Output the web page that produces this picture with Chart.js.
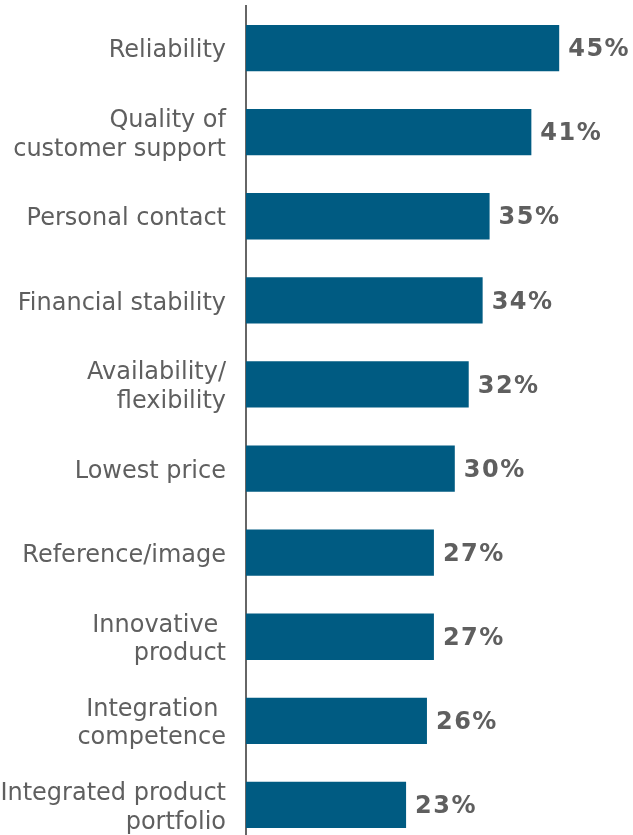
<!DOCTYPE html>
<html>
<head>
<meta charset="utf-8">
<script src="https://cdn.jsdelivr.net/npm/chart.js@4"></script>
<style>
  html, body { margin: 0; padding: 0; background: #fff; overflow: hidden; }
  .wrap { position: relative; width: 633px; height: 850px; }
</style>
</head>
<body>
<div class="wrap"><canvas id="driversChart"></canvas></div>
<script>
const categories = [
  "Reliability",
  ["Quality of", "customer support"],
  "Personal contact",
  "Financial stability",
  ["Availability/", "flexibility"],
  "Lowest price",
  "Reference/image",
  ["Innovative ", "product"],
  ["Integration ", "competence"],
  ["Integrated product", "portfolio"],
];

const shares = [45, 41, 35, 34, 32, 30, 27, 27, 26, 23];

const BAR_BLUE = "#005b82";
const TEXT_GREY = "#5f5f5f";

// percentage labels to the right of each bar
const valueLabels = {
  id: "valueLabels",
  afterDatasetsDraw(chart) {
    const { ctx } = chart;
    const meta = chart.getDatasetMeta(0);
    ctx.save();
    ctx.font = "bold 24px 'DejaVu Sans', Verdana, sans-serif";
    ctx.letterSpacing = "1.5px";
    ctx.fillStyle = TEXT_GREY;
    ctx.textAlign = "left";
    ctx.textBaseline = "middle";
    meta.data.forEach((bar, i) => {
      ctx.fillText(shares[i] + "%", bar.x + 9, bar.y + 2);
    });
    ctx.restore();
  },
};

const ctx = document.getElementById("driversChart").getContext("2d");

new Chart(ctx, {
  type: "bar",
  data: {
    labels: categories,
    datasets: [
      {
        data: shares,
        backgroundColor: BAR_BLUE,
        borderWidth: 0,
        barPercentage: 0.55,
        categoryPercentage: 1,
      },
    ],
  },
  options: {
    indexAxis: "y",
    responsive: true,
    maintainAspectRatio: false,
    animation: false,
    layout: {
      padding: { top: 6, bottom: 3, right: 39, left: 0 },
    },
    scales: {
      x: {
        display: false,
        min: 0,
        max: 50,
      },
      y: {
        afterFit: (axis) => {
          axis.width = 246;
          axis.paddingTop = 0;
          axis.paddingBottom = 0;
        },
        grid: { display: false, drawTicks: false },
        border: { display: true, color: "#666666", width: 2 },
        ticks: {
          padding: 20,
          labelOffset: 3,
          color: TEXT_GREY,
          font: { family: "'DejaVu Sans', Verdana, sans-serif", size: 24, lineHeight: 1.2 },
        },
      },
    },
    plugins: {
      legend: { display: false },
      tooltip: { enabled: false },
    },
  },
  plugins: [valueLabels],
});
</script>
</body>
</html>
